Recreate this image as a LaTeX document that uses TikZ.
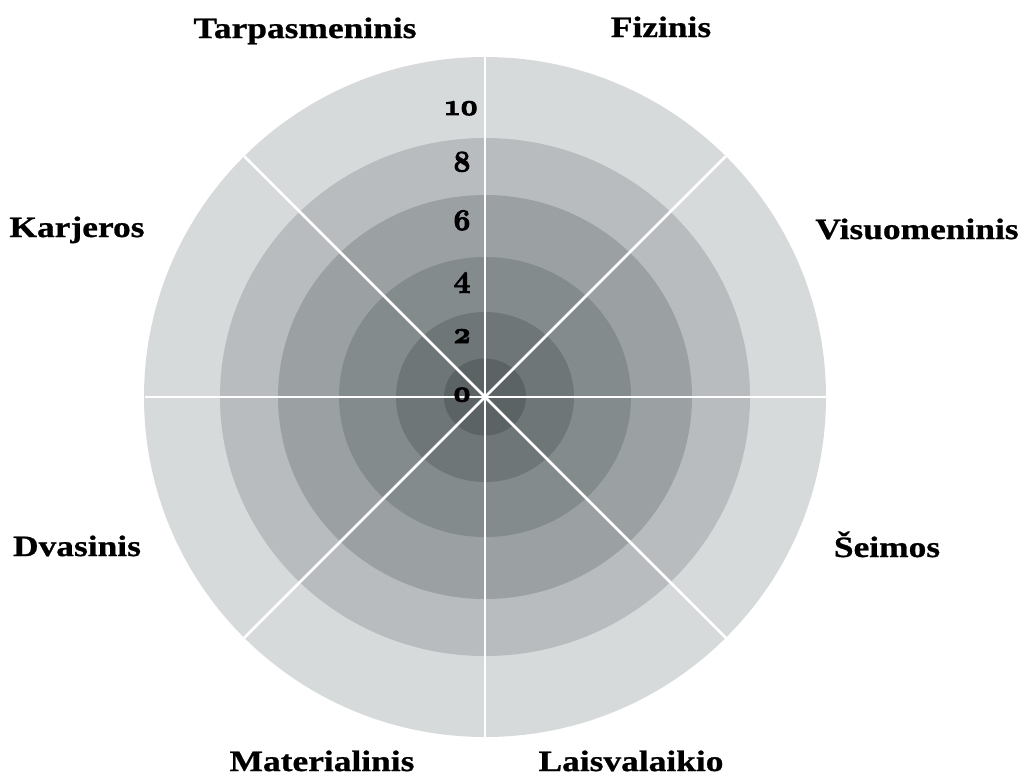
\documentclass[tikz,border=0pt]{standalone}
\usepackage{fontspec}
\usetikzlibrary{calc}
\newfontfamily\labelfont{Liberation Serif}[FakeStretch=1.2, BoldFeatures={FakeBold=0.8}]
\newfontfamily\numfont{Latin Modern Roman}[Numbers=OldStyle, BoldFeatures={FakeBold=3}]
\definecolor{ringA}{HTML}{D7DADB}
\definecolor{ringB}{HTML}{B8BCBE}
\definecolor{ringC}{HTML}{9BA1A2}
\definecolor{ringD}{HTML}{848B8C}
\definecolor{ringE}{HTML}{6E7677}
\definecolor{ringF}{HTML}{5B6364}
\tikzset{
  area/.style={font=\labelfont\bfseries\fontsize{29.5}{32}\selectfont, text=black, anchor=base, inner sep=0pt},
  score/.style={font=\numfont\bfseries\fontsize{30}{32}\selectfont, text=black, anchor=base, inner sep=0pt},
  spoke/.style={draw=white, line width=2.6pt},
}
\begin{document}
\begin{tikzpicture}[x=1pt, y=-1pt]
  \useasboundingbox (0,0) rectangle (1027,777);
  \coordinate (C) at (485,397);
  % concentric score bands, outermost first
  \fill[ringA] (C) ellipse [x radius=341pt, y radius=340pt];
  \fill[ringB] (C) ellipse [x radius=265pt, y radius=259pt];
  \fill[ringC] (C) ellipse [x radius=207pt, y radius=202pt];
  \fill[ringD] (C) ellipse [x radius=146pt, y radius=140pt];
  \fill[ringE] (C) ellipse [x radius=89pt, y radius=85pt];
  \fill[ringF] (C) ellipse [x radius=41pt, y radius=38.5pt];
  % eight spokes dividing the wheel into life areas
  \foreach \a in {0,45,...,315} {
    \coordinate (rim\a) at ($(C)+(\a:340.5pt)$);
    \draw[spoke] (C) -- (rim\a);
  }
  % scale
  \node[score] (s10) at (462,115) {10};
  \node[score] (s8) at (462,171.5) {8};
  \node[score] (s6) at (462,230) {6};
  \node[score] (s4) at (462,287) {4};
  \node[score] (s2) at (462,343) {2};
  \node[score] (s0) at (462,401.5) {0};
  % area names
  \node[area] (tarp) at (305,38) {Tarpasmeninis};
  \node[area] (fiz) at (661,37) {Fizinis};
  \node[area] (karj) at (77,237) {Karjeros};
  \node[area] (vis) at (917,239) {Visuomeninis};
  \node[area] (dvas) at (77,556) {Dvasinis};
  \node[area] (seim) at (887,557) {Šeimos};
  \node[area] (mat) at (322,771) {Materialinis};
  \node[area] (lais) at (631,771) {Laisvalaikio};
\end{tikzpicture}
\end{document}
